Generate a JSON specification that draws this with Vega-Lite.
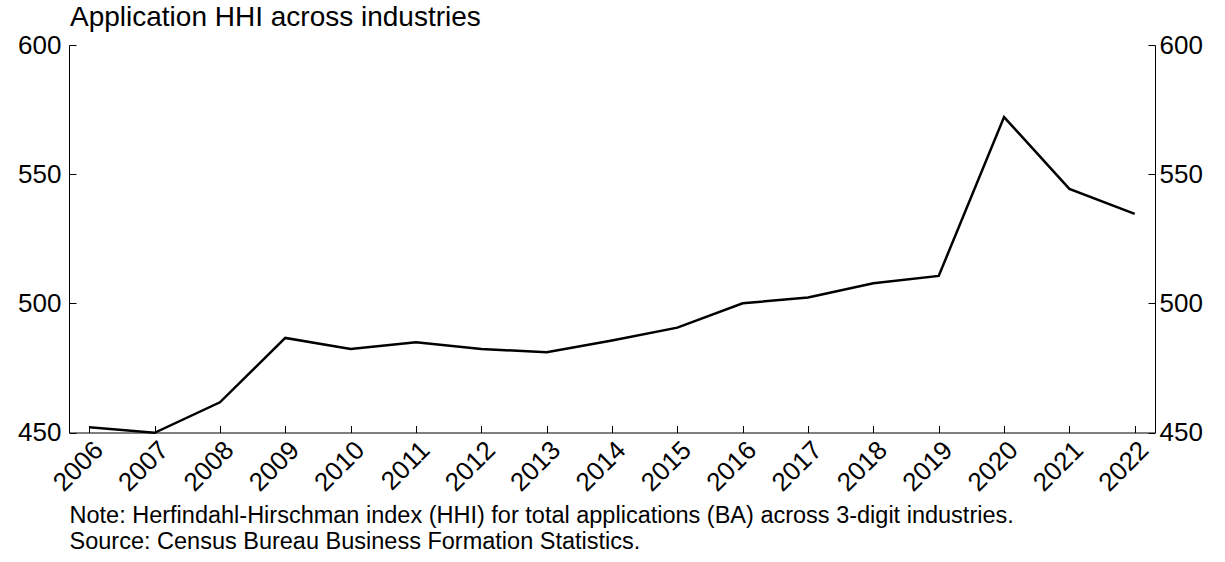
{
  "$schema": "https://vega.github.io/schema/vega-lite/v6.json",
  "width": 1086,
  "height": 387.5,
  "autosize": {"type": "none"},
  "padding": {"left": 69, "top": 45, "right": 70, "bottom": 129.5},
  "background": "white",
  "title": {
    "text": "Application HHI across industries",
    "anchor": "start",
    "frame": "group",
    "fontSize": 28,
    "font": "Liberation Sans",
    "fontWeight": "normal",
    "color": "black",
    "offset": 0,
    "dx": 1
  },
  "data": {
    "values": [
      {"year": "2006", "hhi": 452.0},
      {"year": "2007", "hhi": 449.9},
      {"year": "2008", "hhi": 461.7},
      {"year": "2009", "hhi": 486.6},
      {"year": "2010", "hhi": 482.3},
      {"year": "2011", "hhi": 484.9},
      {"year": "2012", "hhi": 482.3},
      {"year": "2013", "hhi": 481.1},
      {"year": "2014", "hhi": 485.6},
      {"year": "2015", "hhi": 490.6},
      {"year": "2016", "hhi": 500.0},
      {"year": "2017", "hhi": 502.3},
      {"year": "2018", "hhi": 507.8},
      {"year": "2019", "hhi": 510.6},
      {"year": "2020", "hhi": 572.1},
      {"year": "2021", "hhi": 544.3},
      {"year": "2022", "hhi": 534.6}
    ]
  },
  "encoding": {
    "x": {
      "field": "year",
      "type": "ordinal",
      "sort": null,
      "scale": {"type": "point", "padding": 0.31},
      "axis": {
        "orient": "bottom",
        "labelAngle": -45,
        "labelAlign": "right",
        "labelBaseline": "top",
        "labelFontSize": 26,
        "labelPadding": 11,
        "tickSize": -7,
        "title": ["Note: Herfindahl-Hirschman index (HHI) for total applications (BA) across 3-digit industries.", "Source: Census Bureau Business Formation Statistics."],
        "titleAnchor": "start",
        "titleAlign": "left",
        "titleFontSize": 23.5,
        "titleLineHeight": 25.5,
        "titleFontWeight": "normal",
        "titlePadding": 8
      }
    }
  },
  "layer": [
    {
      "mark": {"type": "line", "color": "black", "strokeWidth": 2.5},
      "encoding": {
        "y": {
          "field": "hhi",
          "type": "quantitative",
          "scale": {"domain": [450, 600], "nice": false, "zero": false},
          "axis": {"orient": "left", "values": [450, 500, 550, 600], "tickSize": -7, "labelPadding": 15, "labelFontSize": 26, "title": null}
        }
      }
    },
    {
      "mark": {"type": "line", "opacity": 0},
      "encoding": {
        "y": {
          "field": "hhi",
          "type": "quantitative",
          "scale": {"domain": [450, 600], "nice": false, "zero": false},
          "axis": {"orient": "right", "values": [450, 500, 550, 600], "tickSize": -7, "labelPadding": 11, "labelFontSize": 26, "title": null}
        }
      }
    }
  ],
  "resolve": {"scale": {"y": "independent"}},
  "config": {
    "view": {"stroke": null},
    "font": "Liberation Sans",
    "axis": {
      "grid": false,
      "domainColor": "black",
      "domainWidth": 1,
      "tickColor": "black",
      "tickWidth": 1,
      "labelColor": "black",
      "titleColor": "black",
      "labelFont": "Liberation Sans",
      "titleFont": "Liberation Sans"
    }
  }
}
